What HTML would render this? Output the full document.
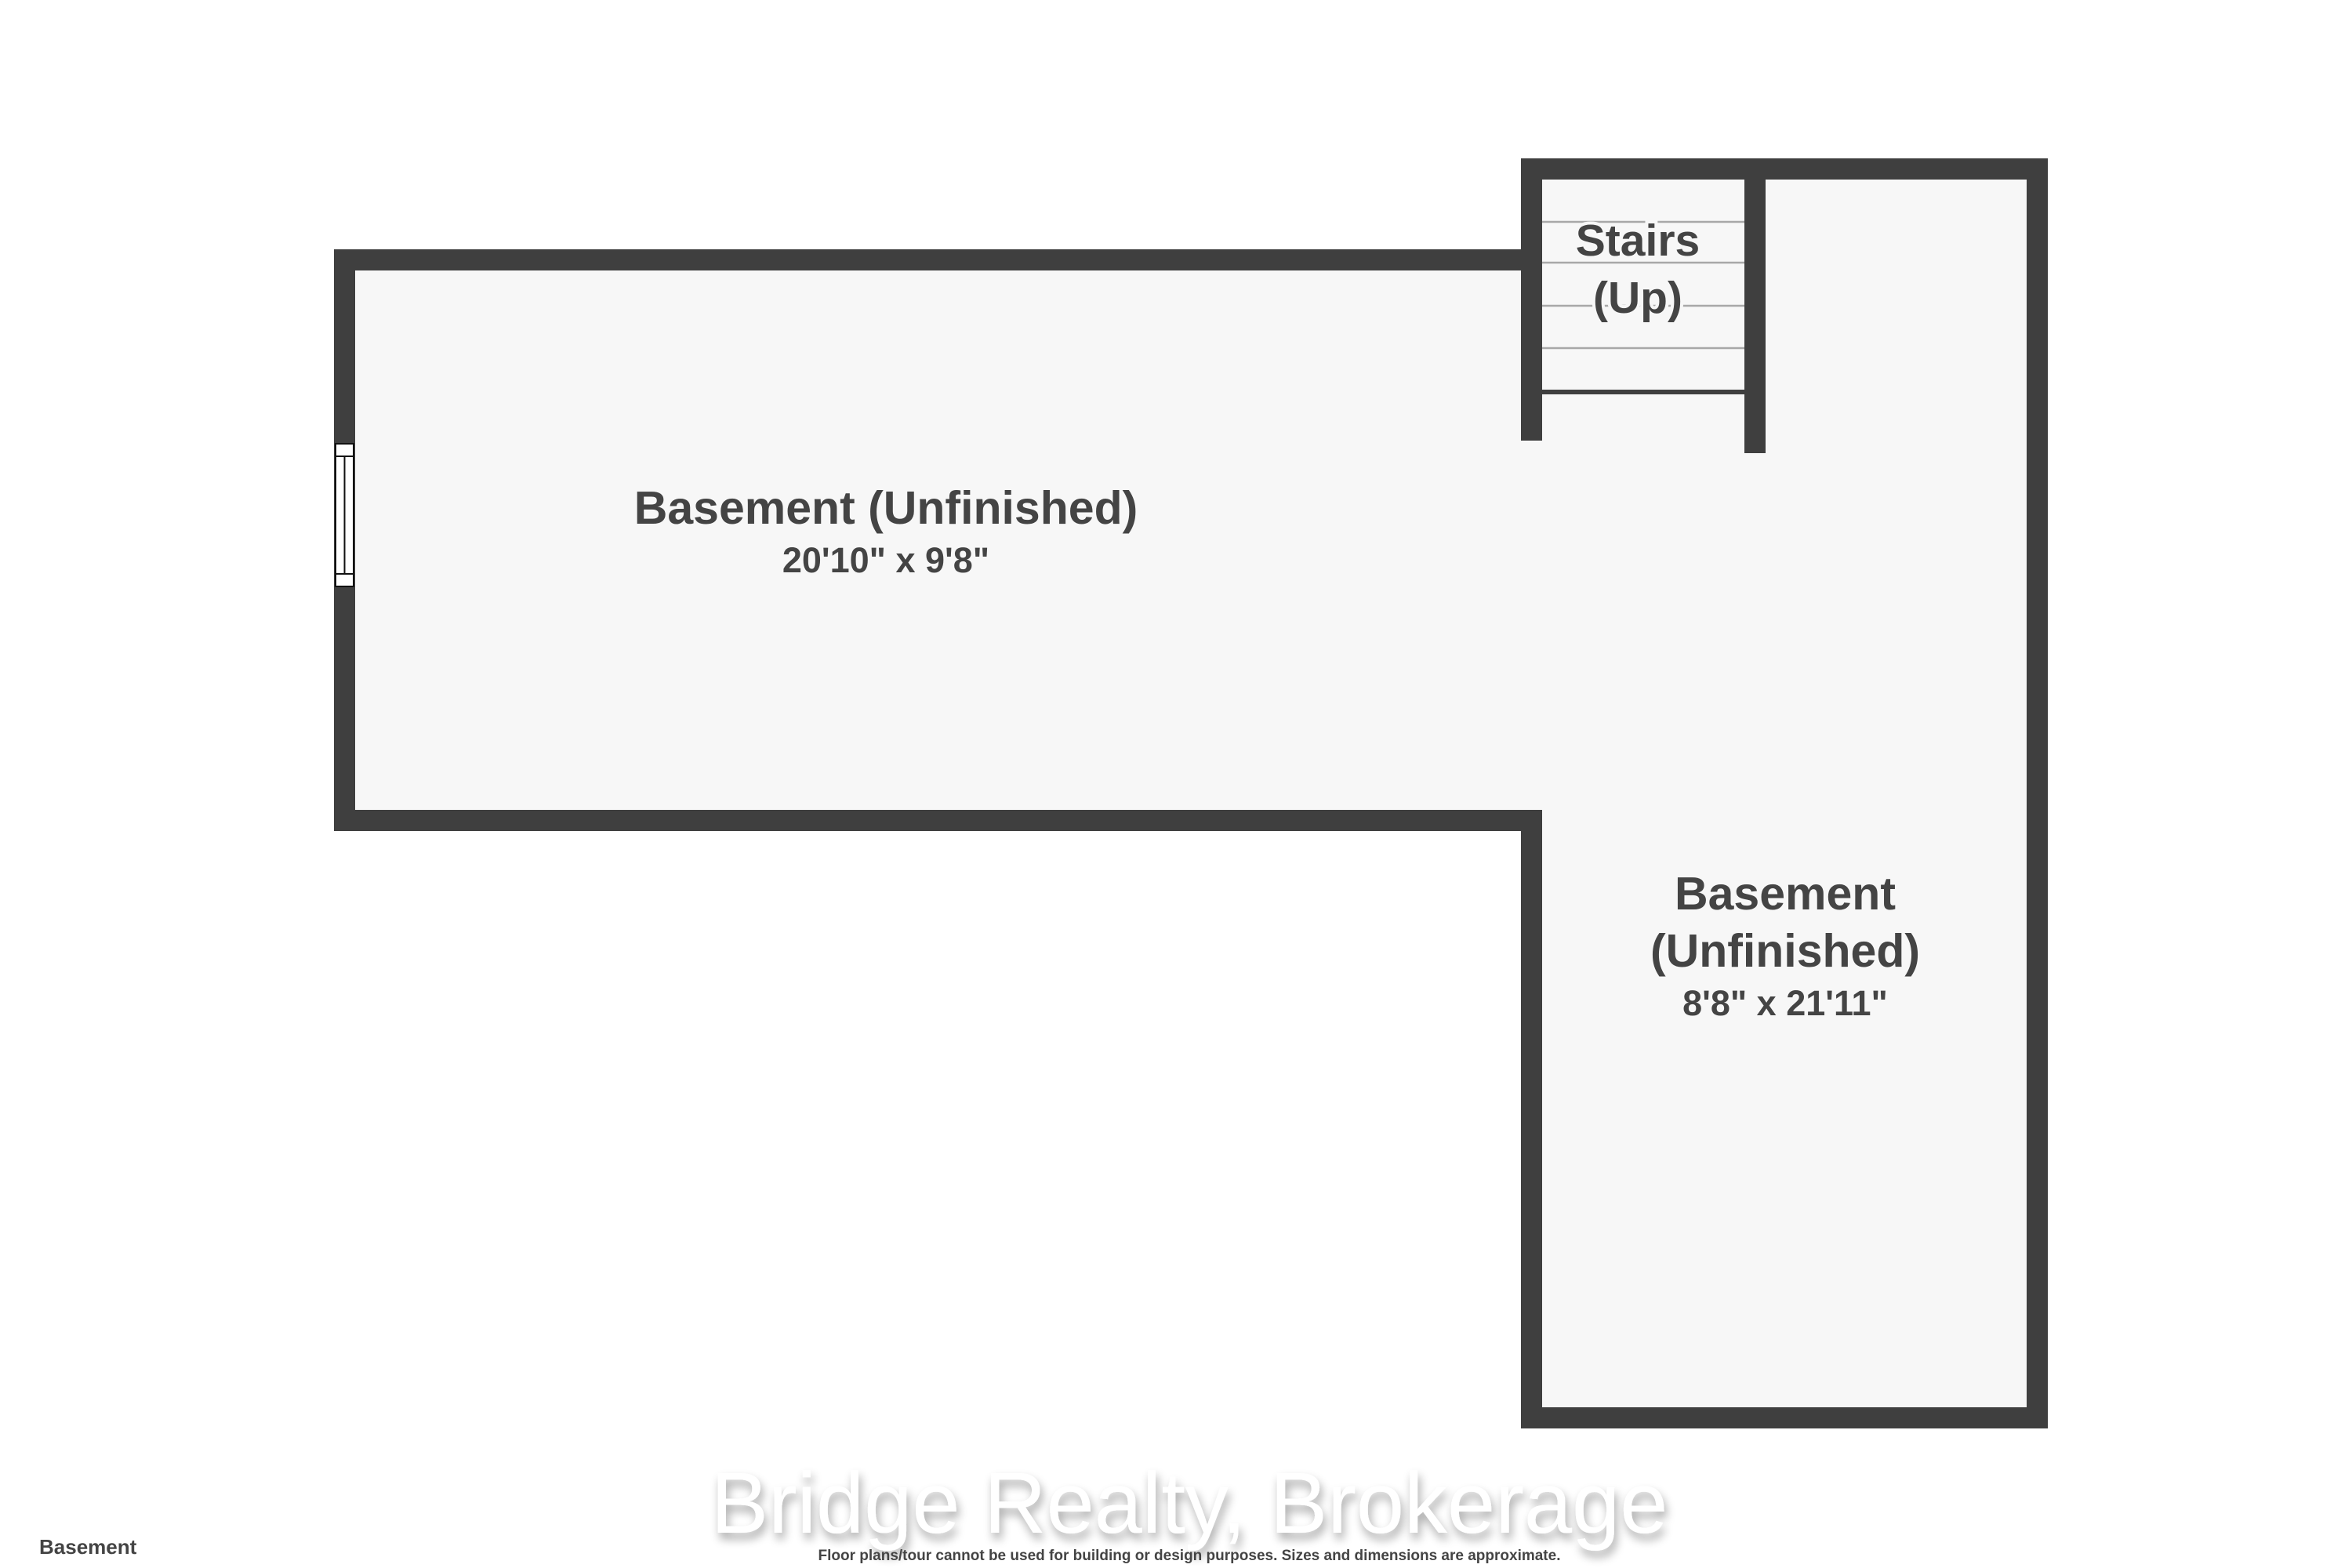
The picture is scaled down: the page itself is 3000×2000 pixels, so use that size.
<!DOCTYPE html>
<html><head><meta charset="utf-8"><style>
html,body{margin:0;padding:0;background:#fff;}
svg{display:block;}
text{font-family:"Liberation Sans","DejaVu Sans",sans-serif;font-weight:bold;fill:#444;}
</style></head><body>
<svg width="3000" height="2000" viewBox="0 0 3000 2000" xmlns="http://www.w3.org/2000/svg">
<defs>
<filter id="sh" x="-10%" y="-30%" width="120%" height="160%">
<feGaussianBlur in="SourceAlpha" stdDeviation="6"/>
<feOffset dx="3" dy="8"/>
<feComponentTransfer><feFuncA type="linear" slope="0.35"/></feComponentTransfer>
<feMerge><feMergeNode/><feMergeNode in="SourceGraphic"/></feMerge>
</filter>
</defs>
<rect x="426" y="318" width="1541" height="742" fill="#3f3f3f"/>
<rect x="1940" y="202" width="672" height="1620" fill="#3f3f3f"/>
<rect x="453" y="345" width="1514" height="688" fill="#f7f7f7"/>
<rect x="1967" y="229" width="618" height="1566" fill="#f7f7f7"/>
<rect x="1940" y="562" width="30" height="471" fill="#f7f7f7"/>
<rect x="1940" y="202" width="27" height="360" fill="#3f3f3f"/>
<rect x="2225" y="202" width="27" height="376" fill="#3f3f3f"/>
<g stroke="#a8a8a8" stroke-width="2.5">
<line x1="1967" y1="283" x2="2225" y2="283"/>
<line x1="1967" y1="335" x2="2225" y2="335"/>
<line x1="1967" y1="390" x2="2225" y2="390"/>
<line x1="1967" y1="444" x2="2225" y2="444"/>
</g>
<rect x="1967" y="497" width="258" height="6" fill="#3f3f3f"/>
<g fill="#fff" stroke="#111" stroke-width="2">
<rect x="428" y="566" width="23" height="182"/>
<line x1="428" y1="582" x2="451" y2="582"/>
<line x1="428" y1="732" x2="451" y2="732"/>
<line x1="439.5" y1="582" x2="439.5" y2="732"/>
</g>
<text x="1130" y="668" font-size="59" text-anchor="middle">Basement (Unfinished)</text>
<text x="1130" y="730" font-size="45" text-anchor="middle">20'10" x 9'8"</text>
<g stroke="#f7f7f7" stroke-width="8" paint-order="stroke">
<text x="2089" y="326" font-size="57" text-anchor="middle">Stairs</text>
<text x="2089" y="399" font-size="57" text-anchor="middle">(Up)</text>
</g>
<text x="2277" y="1160" font-size="59" text-anchor="middle">Basement</text>
<text x="2277" y="1233" font-size="59" text-anchor="middle">(Unfinished)</text>
<text x="2277" y="1295" font-size="45" text-anchor="middle">8'8" x 21'11"</text>
<text x="1517" y="1955" font-size="110" text-anchor="middle" style="font-weight:normal;fill:#fff" filter="url(#sh)">Bridge Realty, Brokerage</text>
<text x="1517" y="1990" font-size="19" text-anchor="middle">Floor plans/tour cannot be used for building or design purposes. Sizes and dimensions are approximate.</text>
<text x="50" y="1982" font-size="26">Basement</text>
</svg>
</body></html>
